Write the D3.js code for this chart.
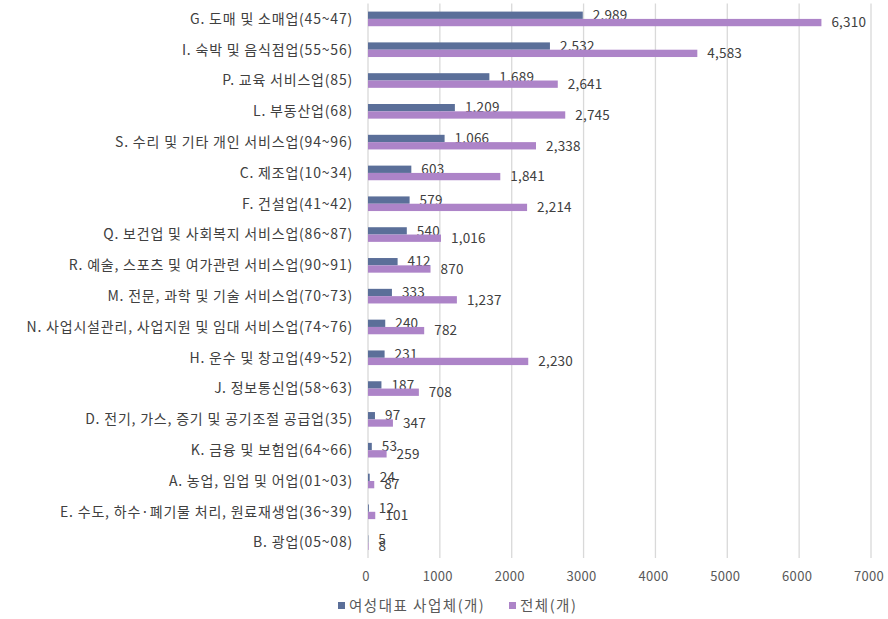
<!DOCTYPE html>
<html>
<head>
<meta charset="utf-8">
<script src="https://cdn.jsdelivr.net/npm/d3@7"></script>
<style>
  body { margin: 0; background: #fff; }
  text { font-family: "Noto Sans CJK KR", "Noto Sans", sans-serif; }
</style>
</head>
<body>
<div id="chart"></div>
<script>
// categories top to bottom
var categories = [
  "G. 도매 및 소매업(45~47)",
  "I. 숙박 및 음식점업(55~56)",
  "P. 교육 서비스업(85)",
  "L. 부동산업(68)",
  "S. 수리 및 기타 개인 서비스업(94~96)",
  "C. 제조업(10~34)",
  "F. 건설업(41~42)",
  "Q. 보건업 및 사회복지 서비스업(86~87)",
  "R. 예술, 스포츠 및 여가관련 서비스업(90~91)",
  "M. 전문, 과학 및 기술 서비스업(70~73)",
  "N. 사업시설관리, 사업지원 및 임대 서비스업(74~76)",
  "H. 운수 및 창고업(49~52)",
  "J. 정보통신업(58~63)",
  "D. 전기, 가스, 증기 및 공기조절 공급업(35)",
  "K. 금융 및 보험업(64~66)",
  "A. 농업, 임업 및 어업(01~03)",
  "E. 수도, 하수·폐기물 처리, 원료재생업(36~39)",
  "B. 광업(05~08)"
];
var womenValues = [2989, 2532, 1689, 1209, 1066, 603, 579, 540, 412, 333, 240, 231, 187, 97, 53, 24, 12, 5];
var totalValues = [6310, 4583, 2641, 2745, 2338, 1841, 2214, 1016, 870, 1237, 782, 2230, 708, 347, 259, 87, 101, 8];
var seriesNames = ["여성대표 사업체(개)", "전체(개)"];
var xTicks = [0, 1000, 2000, 3000, 4000, 5000, 6000, 7000];

var colors = ["#5b6f99", "#ad84c8"];
var W = 888, H = 619;
var plotLeft = 368, plotRight = 871, plotTop = 3.5, plotBottom = 558;

var svg = d3.select("#chart").append("svg")
    .attr("width", W).attr("height", H);

var x = d3.scaleLinear().domain([0, 7000]).range([plotLeft, plotRight]);
var y = d3.scaleBand().domain(categories).range([plotTop, plotBottom]).paddingInner(0.525).paddingOuter(0.2625);
var sub = d3.scaleBand().domain([0, 1]).range([0, y.bandwidth()]);

// gridlines
svg.append("g").selectAll("line").data(xTicks).enter().append("line")
    .attr("x1", function(d) { return x(d); }).attr("x2", function(d) { return x(d); })
    .attr("y1", plotTop).attr("y2", plotBottom)
    .attr("stroke", "#d9d9d9").attr("stroke-width", 1.3);

// x tick labels
svg.append("g").selectAll("text").data(xTicks).enter().append("text")
    .attr("x", function(d) { return x(d) - 2; })
    .attr("y", 576)
    .attr("dy", "0.35em")
    .attr("text-anchor", "middle")
    .attr("font-size", 13)
    .attr("letter-spacing", "0.3px")
    .attr("fill", "#595959")
    .text(function(d) { return d; });

// category labels
svg.append("g").selectAll("text").data(categories).enter().append("text")
    .attr("x", 353)
    .attr("y", function(d) { return y(d) + y.bandwidth() / 2; })
    .attr("dy", "0.35em")
    .attr("text-anchor", "end")
    .attr("font-size", 14)
    .attr("letter-spacing", "0.8px")
    .attr("fill", "#404040")
    .text(function(d) { return d; });

var series = [womenValues, totalValues];
series.forEach(function(vals, si) {
  var g = svg.append("g");
  g.selectAll("rect").data(vals).enter().append("rect")
      .attr("x", x(0))
      .attr("y", function(d, i) { return y(categories[i]) + sub(si); })
      .attr("width", function(d) { return x(d) - x(0); })
      .attr("height", sub.bandwidth())
      .attr("fill", colors[si]);
  g.selectAll("text").data(vals).enter().append("text")
      .attr("x", function(d) { return x(d) + 10; })
      .attr("y", function(d, i) { return y(categories[i]) + sub(si) + sub.bandwidth() / 2; })
      .attr("dy", "0.35em")
      .attr("font-size", 13.5)
      .attr("letter-spacing", "0.2px")
      .attr("fill", "#404040")
      .text(function(d) { return d3.format(",")(d); });
});

// legend
var legendX = [338, 509];
seriesNames.forEach(function(name, i) {
  svg.append("rect")
      .attr("x", legendX[i]).attr("y", 602)
      .attr("width", 7).attr("height", 7)
      .attr("fill", colors[i]);
  svg.append("text")
      .attr("x", legendX[i] + 11).attr("y", 605.5)
      .attr("dy", "0.35em")
      .attr("font-size", 14.5)
      .attr("letter-spacing", "1.5px")
      .attr("fill", "#595959")
      .text(name);
});
</script>
</body>
</html>
